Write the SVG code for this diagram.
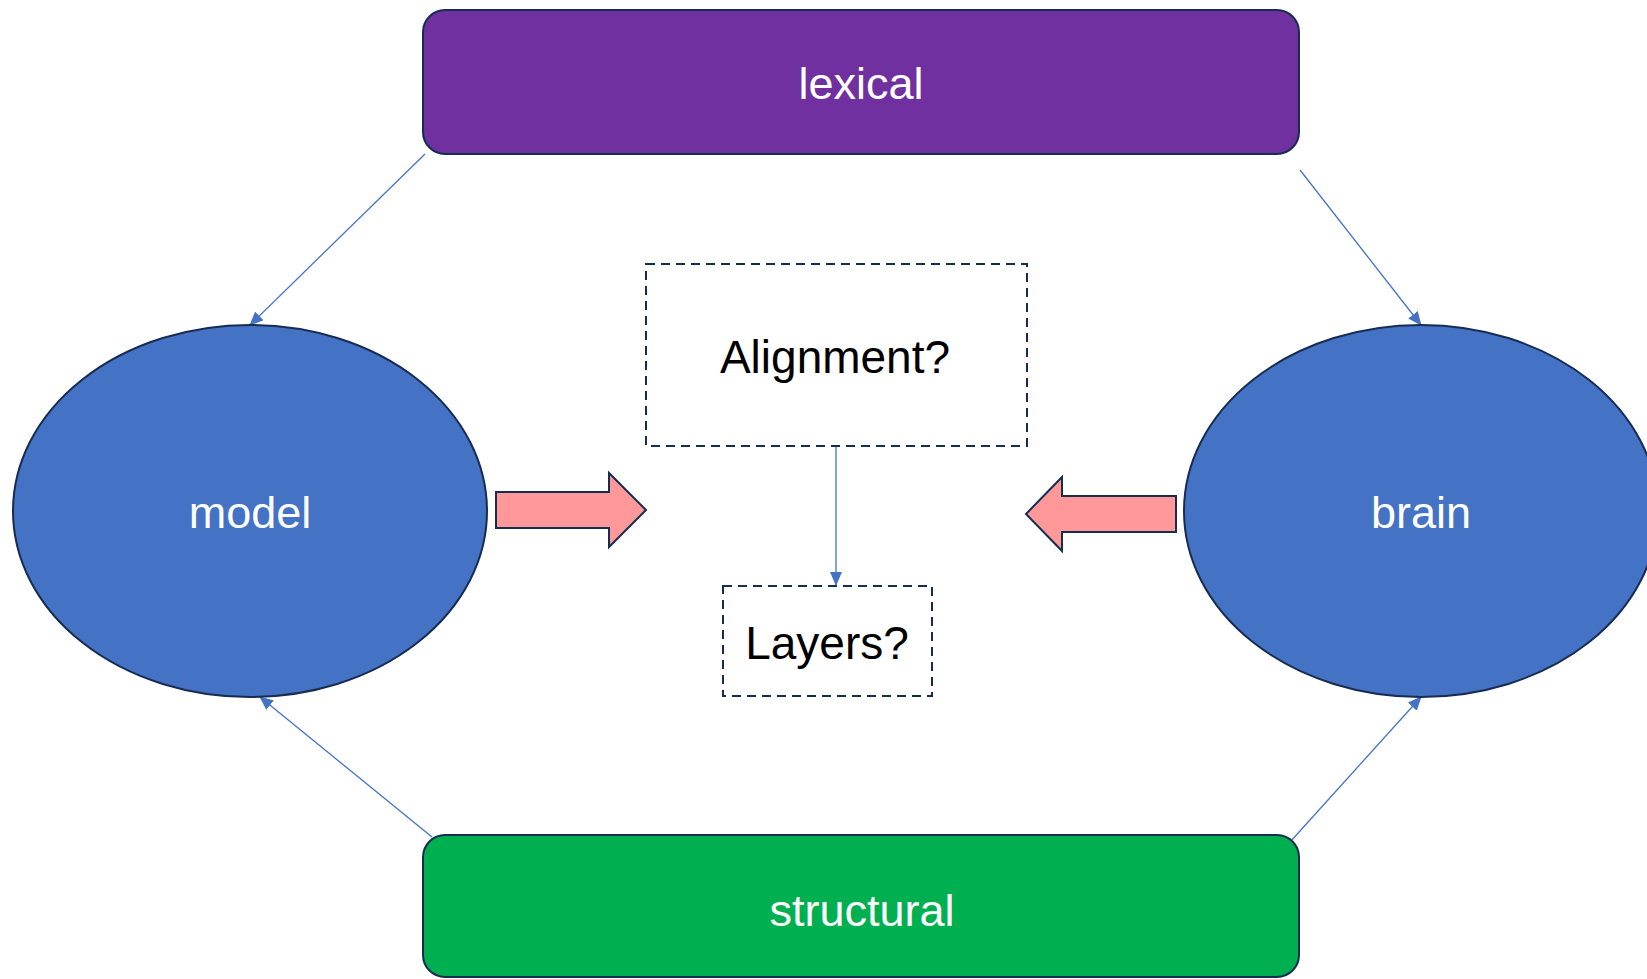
<svg xmlns="http://www.w3.org/2000/svg" width="1647" height="979" viewBox="0 0 1647 979">
<style>
.lbl{font-family:"Liberation Sans",Arial,sans-serif;font-size:45px;text-anchor:middle;fill:#fff}
.q{font-family:"Liberation Sans",Arial,sans-serif;font-size:46px;text-anchor:middle;fill:#000}
.edge{stroke:#4472C4;stroke-width:1.3;fill:none}
.node{stroke:#172C51;stroke-width:2}
.dash{fill:none;stroke:#172C51;stroke-width:2;stroke-dasharray:9,6}
.big{fill:#FF9999;stroke:#172C51;stroke-width:2}
</style>
<defs>
<marker id="ah" markerWidth="14" markerHeight="12" refX="13" refY="6" orient="auto" markerUnits="userSpaceOnUse">
<path d="M0,0 L14,6 L0,12 Z" fill="#4472C4"/>
</marker>
</defs>
<rect width="1647" height="979" fill="#fff"/>
<g id="connectors">
<line class="edge" x1="425" y1="154" x2="250" y2="325" marker-end="url(#ah)"/>
<line class="edge" x1="1300" y1="170" x2="1421" y2="325" marker-end="url(#ah)"/>
<line class="edge" x1="432" y1="837" x2="260" y2="697" marker-end="url(#ah)"/>
<line class="edge" x1="1281" y1="852" x2="1421" y2="697" marker-end="url(#ah)"/>
<line class="edge" x1="836" y1="446" x2="836" y2="585" marker-end="url(#ah)"/>
</g>
<g id="lexical">
<rect class="node" x="423" y="10" width="876" height="144" rx="22" fill="#7030A0"/>
<text class="lbl" x="861" y="99">lexical</text>
</g>
<g id="structural">
<rect class="node" x="423" y="835" width="876" height="142" rx="22" fill="#00B050"/>
<text class="lbl" x="862" y="926">structural</text>
</g>
<g id="model">
<ellipse class="node" cx="250" cy="511" rx="237" ry="186" fill="#4472C4"/>
<text class="lbl" x="250" y="528">model</text>
</g>
<g id="brain">
<ellipse class="node" cx="1421" cy="511" rx="237" ry="186" fill="#4472C4"/>
<text class="lbl" x="1421" y="528">brain</text>
</g>
<g id="alignment">
<rect class="dash" x="646" y="264" width="381" height="182"/>
<text class="q" x="835" y="373">Alignment?</text>
</g>
<g id="layers">
<rect class="dash" x="723" y="586" width="209" height="110"/>
<text class="q" x="827" y="659">Layers?</text>
</g>
<g id="arrow-right">
<path class="big" d="M496,492 L609,492 L609,473 L646,510 L609,547 L609,528 L496,528 Z"/>
</g>
<g id="arrow-left">
<path class="big" d="M1176,496 L1062,496 L1062,477 L1026,514 L1062,551 L1062,532 L1176,532 Z"/>
</g>
</svg>
